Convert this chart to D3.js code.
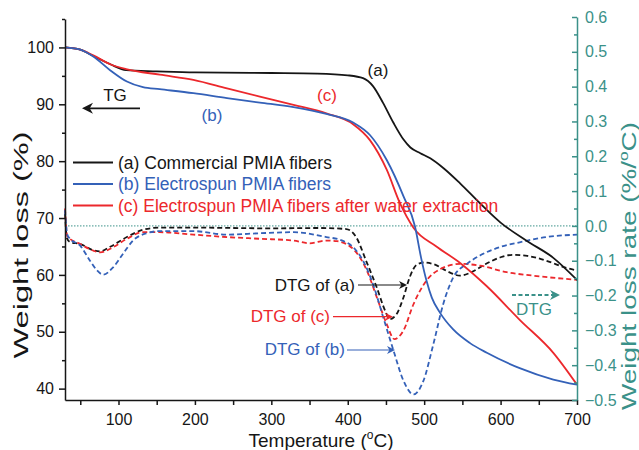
<!DOCTYPE html>
<meta charset="utf-8">
<style>
  body { margin: 0; background: #fff; }
  svg { font-family: "Liberation Sans", Arial, sans-serif; }
</style>
<body>
<script src="https://cdn.jsdelivr.net/npm/d3@7"></script>
<script>

// TG curves: [temperature, weight %]
var tgA = [[30,100],[50,99.6],[67,98.5],[90,97],[110,96],[150,95.8],[200,95.6],[300,95.5],[360,95.4],
  [400,95.1],[420,94.6],[433,93.2],[446,90.3],[460,86.7],[473,83.8],[482,82.4],[495,81.4],[508,80.5],
  [525,78.8],[547,76.1],[573,72.6],[600,69.2],[634,66],[669,63],[700,59.1]];
var tgB = [[30,100],[50,99.6],[67,98.4],[89,96],[111,94],[132,93],[154,92.65],[198,91.95],[242,91.07],
  [285,90.3],[329,89.5],[372,88.3],[407,86.8],[429,84.6],[451,80.2],[473,73.8],[488,68.5],[496,63],
  [503,59],[510,56],[520,53.5],[538,50.4],[560,48],[582,46.3],[625,43.6],[669,41.6],[700,40.7]];
var tgC = [[30,100],[50,99.6],[67,98.6],[90,97],[110,96.2],[154,95.2],[198,94.3],[242,92.8],[285,91.35],
  [329,89.9],[372,88.4],[407,86.5],[429,83.7],[451,78.5],[468,72.7],[486,68.3],[516,65],[547,62.1],
  [582,58],[625,52.1],[669,46.3],[700,40.7]];

// DTG curves: [temperature, weight loss rate %/C]
var dtgA = [[30,0.035],[32.5,-0.035],[37,-0.047],[50,-0.052],[67,-0.07],[76,-0.073],[89,-0.06],[111,-0.032],
  [132,-0.011],[154,-0.005],[200,-0.005],[300,-0.007],[364,-0.006],[398,-0.009],[411,-0.032],[424,-0.1],
  [438,-0.177],[449,-0.244],[455,-0.268],[464,-0.253],[473,-0.205],[481,-0.148],[490,-0.112],[500,-0.105],
  [515,-0.112],[530,-0.13],[547,-0.143],[560,-0.135],[580,-0.11],[600,-0.09],[616,-0.083],[635,-0.086],
  [660,-0.1],[685,-0.12],[700,-0.128]];
var dtgB = [[30,0.045],[33,-0.025],[36.5,-0.037],[49.6,-0.056],[62.7,-0.1],[71.5,-0.127],[80,-0.14],[93,-0.119],
  [106,-0.08],[119,-0.042],[137,-0.021],[154,-0.015],[198,-0.015],[242,-0.025],[285,-0.021],[329,-0.018],
  [372,-0.032],[390,-0.04],[407,-0.061],[420,-0.1],[433,-0.167],[446.5,-0.263],[460,-0.359],[473,-0.445],
  [486,-0.484],[499,-0.445],[512,-0.34],[525,-0.224],[538,-0.148],[556,-0.109],[573,-0.085],[599,-0.061],
  [625,-0.047],[660,-0.032],[700,-0.025]];
var dtgC = [[30,0.05],[33,-0.03],[50,-0.052],[67,-0.071],[76,-0.076],[93,-0.061],[111,-0.037],[132,-0.018],
  [154,-0.018],[198,-0.025],[242,-0.032],[285,-0.037],[329,-0.042],[350,-0.05],[372,-0.042],[386,-0.044],
  [407,-0.066],[425,-0.128],[438,-0.205],[451,-0.282],[461,-0.325],[473,-0.30],[486,-0.225],[503,-0.157],
  [521,-0.124],[547,-0.109],[573,-0.114],[608,-0.133],[643,-0.143],[700,-0.155]];

var legendLabels = ["(a) Commercial PMIA fibers", "(b) Electrospun PMIA fibers",
                    "(c) Electrospun PMIA fibers after water extraction"];
var tempTicks = [100, 200, 300, 400, 500, 600, 700];
var tempMinor = [50, 150, 250, 350, 450, 550, 650];
var weightTicks = [40, 50, 60, 70, 80, 90, 100];
var weightMinor = [45, 55, 65, 75, 85, 95, 105];
var rateTicks = [-0.5, -0.4, -0.3, -0.2, -0.1, 0.0, 0.1, 0.2, 0.3, 0.4, 0.5, 0.6];
var rateMinor = [-0.45, -0.35, -0.25, -0.15, -0.05, 0.05, 0.15, 0.25, 0.35, 0.45, 0.55];

var black = "#161616", blue = "#3461b8", red = "#ec282c", teal = "#3b9189";

var svg = d3.select("body").append("svg")
    .attr("width", 639)
    .attr("height", 450);

var x = d3.scaleLinear().domain([30, 700]).range([65, 577]);
var yL = d3.scaleLinear().domain([38, 105]).range([400, 19]);
var yR = d3.scaleLinear().domain([-0.5, 0.6]).range([400, 17]);

// zero line for DTG
svg.append("line")
    .attr("x1", x(30)).attr("x2", x(700))
    .attr("y1", yR(0)).attr("y2", yR(0))
    .attr("stroke", teal).attr("stroke-width", 1)
    .attr("stroke-dasharray", "1.5,1.5");

var lineL = d3.line().x(d => x(d[0])).y(d => yL(d[1])).curve(d3.curveMonotoneX);
var lineR = d3.line().x(d => x(d[0])).y(d => yR(d[1])).curve(d3.curveMonotoneX);

[[dtgA, black], [dtgC, red], [dtgB, blue]].forEach(function(s) {
  svg.append("path").datum(s[0])
      .attr("d", lineR)
      .attr("fill", "none").attr("stroke", s[1])
      .attr("stroke-width", 1.8).attr("stroke-dasharray", "5,3");
});

[[tgA, black], [tgC, red], [tgB, blue]].forEach(function(s) {
  svg.append("path").datum(s[0])
      .attr("d", lineL)
      .attr("fill", "none").attr("stroke", s[1])
      .attr("stroke-width", 1.8);
});

//axes
function styleAxis(g, color, fs) {
  g.selectAll("path,line").attr("stroke", color).attr("stroke-width", 1.5);
  g.selectAll("text").attr("fill", color).style("font-size", fs + "px").attr("font-family", null);
}

var gl = svg.append("g").attr("transform", "translate(65,0)")
    .call(d3.axisLeft(yL).tickValues(weightTicks).tickSize(6).tickSizeOuter(0).tickPadding(5));
styleAxis(gl, black, 16);
var glm = svg.append("g").attr("transform", "translate(65,0)")
    .call(d3.axisLeft(yL).tickValues(weightMinor).tickSize(3).tickFormat(""));
glm.select(".domain").remove();
styleAxis(glm, black, 16);

var gb = svg.append("g").attr("transform", "translate(0,400)")
    .call(d3.axisBottom(x).tickValues(tempTicks).tickSize(5).tickSizeOuter(0).tickPadding(9));
styleAxis(gb, black, 16);
var gbm = svg.append("g").attr("transform", "translate(0,400)")
    .call(d3.axisBottom(x).tickValues(tempMinor).tickSize(5).tickFormat(""));
gbm.select(".domain").remove();
styleAxis(gbm, black, 16);

var gr = svg.append("g").attr("transform", "translate(577,0)")
    .call(d3.axisRight(yR).tickValues(rateTicks).tickSize(-5).tickSizeOuter(0).tickPadding(8)
      .tickFormat(d3.format(".1f")));
styleAxis(gr, teal, 16);
var grm = svg.append("g").attr("transform", "translate(577,0)")
    .call(d3.axisRight(yR).tickValues(rateMinor).tickSize(-3).tickFormat(""));
grm.select(".domain").remove();
styleAxis(grm, teal, 16);

// axis titles
svg.append("text")
    .attr("transform", "translate(28,245) rotate(-90)")
    .attr("text-anchor", "middle")
    .attr("textLength", 227).attr("lengthAdjust", "spacingAndGlyphs")
    .style("font-size", "21px").attr("fill", black)
    .text("Weight loss (%)");

var rt = svg.append("text")
    .attr("transform", "translate(636,266) rotate(-90)")
    .attr("text-anchor", "middle")
    .attr("textLength", 288).attr("lengthAdjust", "spacingAndGlyphs")
    .style("font-size", "21px").attr("fill", teal);
rt.append("tspan").text("Weight loss rate (%/");
rt.append("tspan").attr("dy", -8).style("font-size", "13px").text("o");
rt.append("tspan").attr("dy", 8).text("C)");

var bt = svg.append("text")
    .attr("x", 321).attr("y", 447)
    .attr("text-anchor", "middle")
    .style("font-size", "19px").attr("fill", black);
bt.append("tspan").text("Temperature (");
bt.append("tspan").attr("dy", -8).style("font-size", "12px").text("o");
bt.append("tspan").attr("dy", 8).text("C)");

// legend
var legColors = [black, blue, red];
var leg = svg.selectAll(".leg").data(legendLabels).enter().append("g")
    .attr("class", "leg")
    .attr("transform", (d, i) => "translate(73," + (162.5 + i * 21.5) + ")");
leg.append("line").attr("x1", 0).attr("x2", 40)
    .attr("stroke", (d, i) => legColors[i]).attr("stroke-width", 1.8);
leg.append("text").attr("x", 45).attr("y", 6)
    .style("font-size", "17.5px").attr("fill", (d, i) => legColors[i])
    .text(d => d);

// curve labels
function label(t, px, py, color, size, anchor) {
  svg.append("text").attr("x", px).attr("y", py)
      .attr("text-anchor", anchor || "middle")
      .style("font-size", (size || 17) + "px").attr("fill", color).text(t);
}
label("(a)", 378, 76, black);
label("(c)", 327, 101, red);
label("(b)", 212, 121, blue);
label("TG", 115, 101, black);
label("DTG of (a)", 355, 291, black, 17, "end");
label("DTG of (c)", 330, 322, red, 17, "end");
label("DTG of (b)", 345, 355, blue, 17, "end");
label("DTG", 534, 315, teal);

// arrows
function arrow(x1, x2, yy, color, w, dash, head) {
  var dir = x2 > x1 ? 1 : -1;
  svg.append("line").attr("x1", x1).attr("x2", x2 - dir * head * 0.6).attr("y1", yy).attr("y2", yy)
      .attr("stroke", color).attr("stroke-width", w)
      .attr("stroke-dasharray", dash);
  var hw = head * 0.5;
  svg.append("path")
      .attr("d", "M" + x2 + "," + yy +
                 "L" + (x2 - dir * head) + "," + (yy - hw) +
                 "L" + (x2 - dir * head * 0.7) + "," + yy +
                 "L" + (x2 - dir * head) + "," + (yy + hw) + "Z")
      .attr("fill", color);
}
arrow(140, 82, 108.3, black, 1.8, null, 11);
arrow(358, 407, 285, black, 1.2, null, 8);
arrow(333, 393, 316.7, red, 1.2, null, 8);
arrow(347, 395, 350, blue, 1.2, null, 8);
arrow(512, 560, 295, teal, 1.8, "4,2.5", 10);

</script>
